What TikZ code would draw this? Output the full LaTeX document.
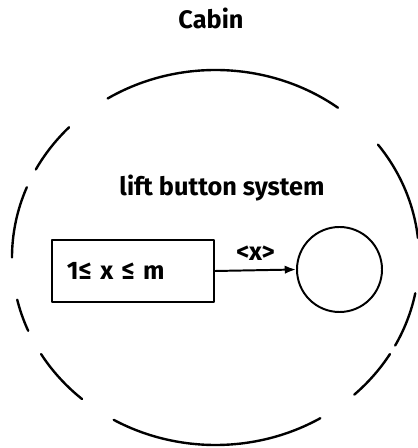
\documentclass[tikz,border=0pt]{standalone}
\usepackage{fontspec}
\setmainfont{Fira Sans}
\usetikzlibrary{arrows.meta}

\tikzset{
  sketch/.style={line width=1.4pt, line cap=round, line join=round},
  lbl/.style={font=\fontsize{18}{20}\selectfont\bfseries},
}

\begin{document}
\begin{tikzpicture}[x=0.025cm,y=0.025cm]
\useasboundingbox (0,0) rectangle (418,448);

\coordinate (c) at (215.5,190.5);
% broken outline of the cabin
\foreach \a/\b in {53/122,136/152,158/180,193/203,211/229,240/301,313/329,332/349,6/37}
  \draw[sketch, line width=1.7pt] (c) ++(\a:203.5 and 187.5) arc[start angle=\a, end angle=\b, x radius=203.5, y radius=187.5];

\node[lbl] (cabin) at (211,430) {Cabin};
\node[lbl] (title) at (222,260) {lift button system};

\node[sketch, draw, lbl, inner xsep=0.375cm, inner ysep=0pt, minimum height=1.55cm, text width=3.3cm, align=left] (range) at (133,177) {1≤ x ≤ m};
\node[sketch, draw, circle, minimum size=2.125cm] (btn) at (339.5,178.5) {};

\draw[sketch, -{Latex[length=8pt,width=6pt]}] (range.east) -- (btn.west) node[lbl, midway, above=3pt] {<x>};
\end{tikzpicture}
\end{document}
